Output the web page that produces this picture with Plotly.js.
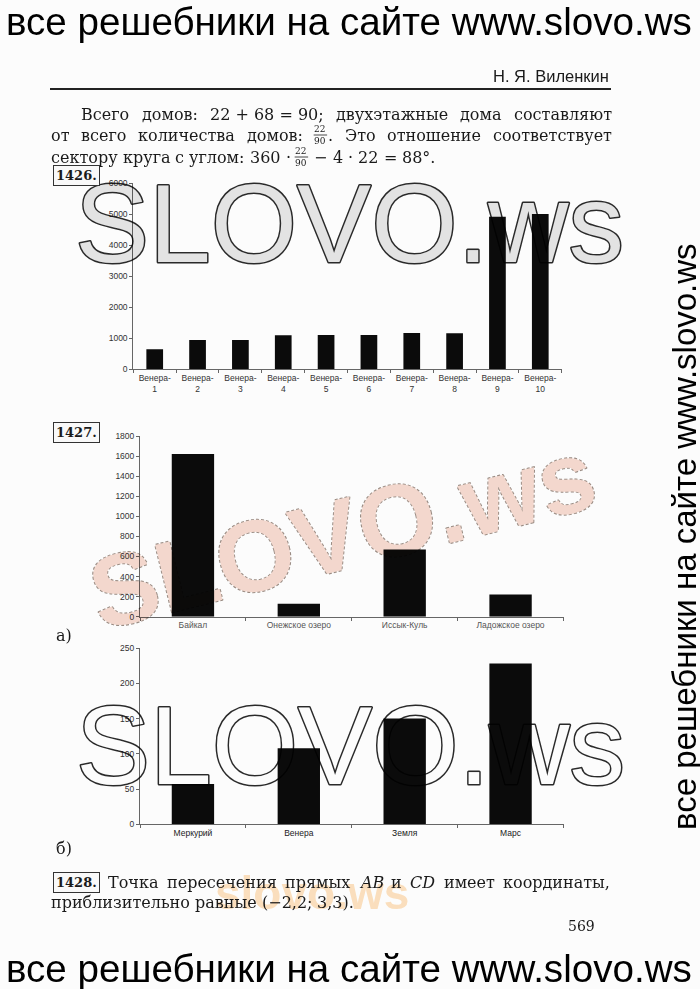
<!DOCTYPE html>
<html><head><meta charset="utf-8">
<script src="https://cdn.plot.ly/plotly-3.0.1.min.js"></script>
<style>html,body{margin:0;padding:0;background:#fcfcfc;}#chart{width:700px;height:989px;}</style>
</head><body><div id="chart"></div>
<script>
// ---- data ----
const venusNames = ['Венера-<br>1','Венера-<br>2','Венера-<br>3','Венера-<br>4','Венера-<br>5','Венера-<br>6','Венера-<br>7','Венера-<br>8','Венера-<br>9','Венера-<br>10'];
const venusValues = [650, 945, 945, 1100, 1110, 1110, 1170, 1160, 4920, 5010];
const venusTicks = [0, 1000, 2000, 3000, 4000, 5000, 6000];

const lakeNames = ['Байкал', 'Онежское озеро', 'Иссык-Куль', 'Ладожское озеро'];
const lakeDepths = [1620, 130, 670, 220];
const lakeTicks = [0, 200, 400, 600, 800, 1000, 1200, 1400, 1600, 1800];

const planetNames = ['Меркурий', 'Венера', 'Земля', 'Марс'];
const planetDistances = [57, 108, 150, 228];
const planetTicks = [0, 50, 100, 150, 200, 250];

// ---- helpers for page placement ----
const W = 700, H = 989;
const px = x => x / W;
const py = y => 1 - y / H;

const SANS = 'Arial, Liberation Sans, sans-serif';
const SERIF = 'DejaVu Serif, Liberation Serif, serif';
const INK = '#1a1a1a';
const BODY = 16;
const FRAC_SIZE = 9;

const data = [
  {type: 'bar', x: venusNames, y: venusValues, xaxis: 'x', yaxis: 'y', width: 0.39,
   marker: {color: '#0b0b0b'}, hoverinfo: 'skip'},
  {type: 'bar', x: lakeNames, y: lakeDepths, xaxis: 'x2', yaxis: 'y2', width: 0.4,
   marker: {color: '#0b0b0b'}, hoverinfo: 'skip'},
  {type: 'bar', x: planetNames, y: planetDistances, xaxis: 'x3', yaxis: 'y3', width: 0.4,
   marker: {color: '#0b0b0b'}, hoverinfo: 'skip'}
];

function xAx(domain, anchor, fontColor, size) {
  return {domain, anchor, type: 'category', showline: true, linecolor: '#666', linewidth: 1,
    ticks: 'outside', tickson: 'boundaries', ticklen: 3, tickcolor: '#666', tickwidth: 1,
    showgrid: false, zeroline: false, fixedrange: true,
    tickfont: {family: SANS, size: size, color: fontColor}};
}
function yAx(domain, anchor, range, vals) {
  return {domain, anchor, range, tickvals: vals, showline: true, linecolor: '#666', linewidth: 1,
    ticks: 'outside', ticklen: 3, tickcolor: '#666', tickwidth: 1,
    showgrid: false, zeroline: false, fixedrange: true,
    tickfont: {family: SANS, size: 8.5, color: '#333'}};
}

const annotations = [];
const shapes = [];
function txt(text, x, y, opts) {
  annotations.push(Object.assign({text, x: px(x), y: py(y), xref: 'paper', yref: 'paper',
    showarrow: false, xanchor: 'left', yanchor: 'middle', borderpad: 0,
    font: {family: SERIF, size: BODY, color: INK}}, opts || {}));
  return annotations.length - 1;
}

// text measuring for justified lines
const ctx = document.createElement('canvas').getContext('2d');
function meas(t, size, italic) {
  ctx.font = (italic ? 'italic ' : '') + size + 'px "DejaVu Serif"';
  return ctx.measureText(t).width;
}
const FRAC = {frac: true};
function pw(p) {
  if (p.frac) return meas('22', FRAC_SIZE) + 2;
  if (typeof p === 'object') return meas(p.t, BODY, p.it);
  return meas(p, BODY);
}
function emit(p, x, y) {
  if (p.frac) {
    const w = pw(p);
    txt('22<br>90', x + w / 2, y, {xanchor: 'center', font: {family: SERIF, size: FRAC_SIZE, color: INK}});
    shapes.push({type: 'line', xref: 'paper', yref: 'paper', x0: px(x), x1: px(x + w), y0: py(y), y1: py(y),
      line: {color: INK, width: 0.8}});
    return;
  }
  if (typeof p === 'object') {
    txt(p.t, x, y, {font: {family: SERIF, size: BODY, color: INK, style: p.it ? 'italic' : 'normal'}});
    return;
  }
  txt(p, x, y);
}
function placeLine(groups, x0, x1, y) {
  const sp = meas(' ', BODY);
  const widths = groups.map(g => g.reduce((s, p) => s + pw(p), 0));
  const total = widths.reduce((a, b) => a + b, 0);
  const gap = x1 == null ? sp : (x1 - x0 - total) / (groups.length - 1);
  let x = x0;
  groups.forEach(g => { g.forEach(p => { emit(p, x, y); x += pw(p); }); x += gap; });
}

// watermarks (drawn first, beneath page text)
const wm1 = txt('SLOVO.ws', 349, 224, {xanchor: 'center', font: {family: SANS, size: 111, color: '#e6e6e6'}});
const wm2 = txt('SLOVO.ws', 342, 534, {xanchor: 'center', textangle: -14, opacity: 0.85,
  font: {family: SANS, size: 101, weight: 'bold', color: '#f5d4c8'}});
const wm3 = txt('SLOVO.ws', 350, 746, {xanchor: 'center', font: {family: SANS, size: 111, color: '#ffffff'}});
const wm4 = txt('slovo.ws', 312, 893, {xanchor: 'center', opacity: 0.55,
  font: {family: SANS, size: 46, weight: 'bold', color: '#fcc98a'}});

// banners
txt('все решебники на сайте www.slovo.ws', 349, 21, {xanchor: 'center', font: {family: SANS, size: 38.6, color: '#000'}});
txt('все решебники на сайте www.slovo.ws', 349, 968, {xanchor: 'center', font: {family: SANS, size: 38.6, color: '#000'}});
txt('все решебники на сайте www.slovo.ws', 684, 537, {xanchor: 'center', textangle: -90, font: {family: SANS, size: 33, color: '#000'}});

// header
txt('Н. Я. Виленкин', 610, 76, {xanchor: 'right', font: {family: SANS, size: 16.5, color: INK}});
shapes.push({type: 'line', xref: 'paper', yref: 'paper', x0: px(50), x1: px(611), y0: py(89), y1: py(89), line: {color: '#222', width: 2}});

// paragraph (justified like the book)
placeLine([['Всего'], ['домов:'], ['22 + 68 = 90;'], ['двухэтажные'], ['дома'], ['составляют']], 80, 611, 114);
placeLine([['от'], ['всего'], ['количества'], ['домов:'], [FRAC, '.'], ['Это'], ['отношение'], ['соответствует']], 50, 611, 135);
placeLine([['сектору'], ['круга'], ['с'], ['углом:'], ['360'], ['·'], [FRAC], ['−'], ['4'], ['·'], ['22'], ['='], ['88°.']], 50, null, 157);

// problem numbers
const boxOpts = {xanchor: 'center', bordercolor: '#333', borderwidth: 1, borderpad: 2, bgcolor: '#fcfcfc',
  font: {family: SERIF, size: 13, weight: 'bold', color: INK}};
txt('1426.', 76, 175, boxOpts);
txt('1427.', 76, 432, boxOpts);
txt('1428.', 76, 882, boxOpts);
txt('а)', 55, 635, {font: {family: SERIF, size: 16, color: INK}});
txt('б)', 55, 848, {font: {family: SERIF, size: 16, color: INK}});

// bottom text
placeLine([['Точка'], ['пересечения'], ['прямых'], [{t: 'AB', it: true}], ['и'], [{t: 'CD', it: true}], ['имеет'], ['координаты,']], 107, 609, 882);
placeLine([['приблизительно'], ['равные'], ['(−2,2;'], ['3,3).']], 50, null, 902);
txt('569', 581, 926, {xanchor: 'center', font: {family: SERIF, size: 14, color: INK}});

const layout = {
  width: W, height: H, margin: {l: 0, r: 0, t: 0, b: 0},
  paper_bgcolor: '#fcfcfc', plot_bgcolor: 'rgba(0,0,0,0)', showlegend: false,
  bargap: 0.6,
  xaxis: xAx([px(133.3), px(561.7)], 'y', '#333', 8.5),
  yaxis: yAx([py(369.3), py(183.3)], 'x', [0, 6000], venusTicks),
  xaxis2: xAx([px(140), px(563.5)], 'y2', '#555', 8.5),
  yaxis2: yAx([py(616.7), py(436)], 'x2', [0, 1800], lakeTicks),
  xaxis3: xAx([px(140), px(563.5)], 'y3', '#222', 8.5),
  yaxis3: yAx([py(824.3), py(648)], 'x3', [0, 250], planetTicks),
  annotations, shapes
};

Plotly.newPlot('chart', data, layout, {staticPlot: true, displayModeBar: false}).then(gd => {
  const svgs = gd.querySelectorAll('.main-svg');
  if (svgs[1]) svgs[1].style.mixBlendMode = 'multiply';
  const outline = (i, color, w, dash) => {
    const t = gd.querySelector('.annotation[data-index="' + i + '"] text');
    if (!t) return;
    t.style.stroke = color; t.style.strokeWidth = w + 'px';
    t.style.paintOrder = 'stroke'; t.style.strokeLinejoin = 'round';
    if (dash) t.style.strokeDasharray = dash;
  };
  outline(wm1, '#2a2a2a', 3);
  outline(wm2, '#8a7a70', 2, '3,2');
  outline(wm3, '#2a2a2a', 3);
});
</script>
</body></html>
